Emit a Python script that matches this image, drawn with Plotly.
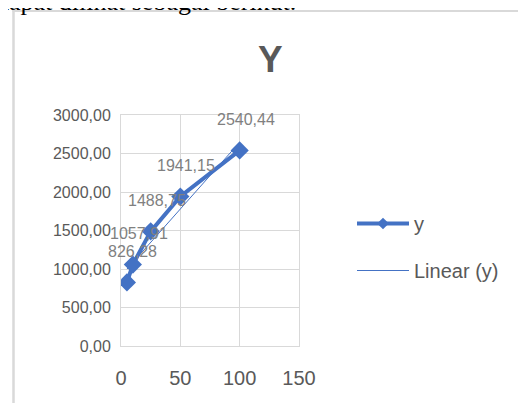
import numpy as np
import plotly.graph_objects as go

# Data
x_vals = [5, 10, 25, 50, 100]
y_vals = [826.28, 1057.91, 1488.75, 1941.15, 2540.44]
x_ticks = [0, 50, 100, 150]
y_ticks = [0, 500, 1000, 1500, 2000, 2500, 3000]

W, H = 526, 403
OFF = 8  # page body margin
ML, MT = 113, 107
MR = W - 291
MB = H - 338
PW = W - ML - MR
PH = H - MT - MB


def px_x(p):
    return (p - OFF - ML) / PW


def px_y(p):
    return (H - MB - (p - OFF)) / PH


BLUE = "#4472C4"
GRID = "#d9d9d9"
TXT = "#595959"

fig = go.Figure()
fig.add_trace(go.Scatter(
    x=x_vals, y=y_vals, mode="lines+markers", name="y",
    line=dict(color=BLUE, width=4),
    marker=dict(symbol="diamond", size=14, color=BLUE),
    showlegend=False, hoverinfo="x+y",
))

slope, intercept = np.polyfit(x_vals, y_vals, 1)
xt = [min(x_vals), max(x_vals)]
yt = [intercept + slope * v for v in xt]
fig.add_trace(go.Scatter(
    x=xt, y=yt, mode="lines", name="Linear (y)",
    line=dict(color=BLUE, width=1),
    showlegend=False,
))

# legend entries (no data of their own)
fig.add_trace(go.Scatter(
    x=[None], y=[None], mode="lines+markers", name="y",
    line=dict(color=BLUE, width=4),
    marker=dict(symbol="diamond", size=9, color=BLUE),
    legendgroup="a",
))
fig.add_trace(go.Scatter(
    x=[None], y=[None], mode="lines", name="Linear (y)",
    line=dict(color=BLUE, width=1),
    legendgroup="b",
))

annotations = []
for xv, yv in zip(x_vals, y_vals):
    annotations.append(dict(
        x=xv, y=yv, xref="x", yref="y",
        text=f"{yv:.2f}".replace(".", ","),
        showarrow=False, yshift=31, xshift=6,
        font=dict(family="Liberation Sans", size=16, color="#808080"),
    ))

# title
annotations.append(dict(
    x=px_x(270), y=px_y(60), xref="paper", yref="paper",
    text="<b>Y</b>", showarrow=False, xanchor="center", yanchor="middle",
    font=dict(family="Liberation Sans", size=37, color=TXT),
))
# cut-off document text above chart
annotations.append(dict(
    x=px_x(-6), y=px_y(1), xref="paper", yref="paper",
    text="dapat dilihat sebagai berikut.", showarrow=False,
    xanchor="left", yanchor="middle",
    font=dict(family="Liberation Serif", size=26, color="#000000"),
))

shapes = [
    dict(type="line", xref="paper", yref="paper",
         x0=px_x(13.5), x1=px_x(13.5), y0=px_y(10), y1=px_y(420),
         line=dict(color=GRID, width=2.5)),
    dict(type="line", xref="paper", yref="paper",
         x0=px_x(12.5), x1=px_x(540), y0=px_y(11), y1=px_y(11),
         line=dict(color=GRID, width=2)),
]

fig.update_layout(
    width=W, height=H, autosize=False,
    margin=dict(l=ML, r=MR, t=MT, b=MB, pad=0, autoexpand=False),
    paper_bgcolor="white", plot_bgcolor="white",
    separators=",.",
    showlegend=True,
    legend=dict(
        x=px_x(352), y=px_y(247), xanchor="left", yanchor="middle",
        font=dict(family="Liberation Sans", size=20, color=TXT),
        itemwidth=52, tracegroupgap=18, traceorder="grouped",
        bgcolor="rgba(0,0,0,0)",
    ),
    annotations=annotations,
    shapes=shapes,
    xaxis=dict(
        range=[0, 150], tickvals=x_ticks, ticktext=[str(v) for v in x_ticks],
        showgrid=True, gridcolor=GRID, gridwidth=1,
        zeroline=False, showline=True, linecolor=GRID, linewidth=1, mirror=True,
        ticks="", ticklabelstandoff=14,
        tickfont=dict(family="Liberation Sans", size=20, color=TXT),
        fixedrange=True,
    ),
    yaxis=dict(
        range=[0, 3000], tickvals=y_ticks, tickformat=".2f",
        showgrid=True, gridcolor=GRID, gridwidth=1,
        zeroline=False, showline=True, linecolor=GRID, linewidth=1, mirror=True,
        ticks="", ticklabelstandoff=6,
        tickfont=dict(family="Liberation Sans", size=16, color=TXT),
        fixedrange=True,
    ),
)

fig.write_html("out.html")
